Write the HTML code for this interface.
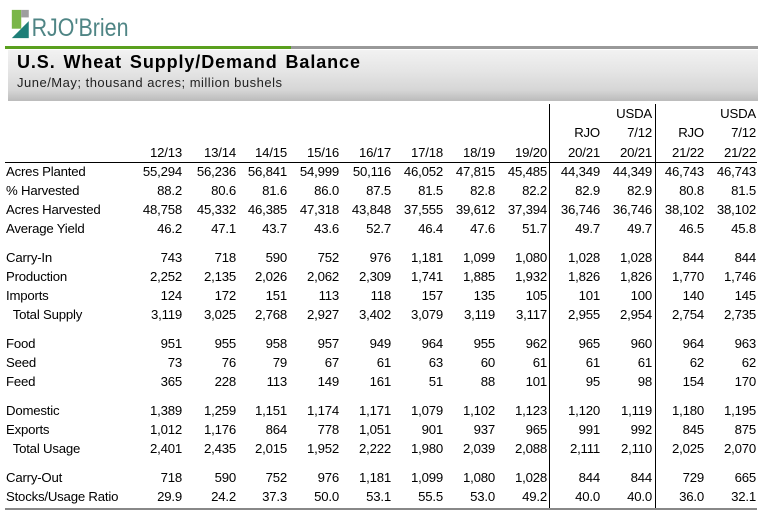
<!DOCTYPE html>
<html><head><meta charset="utf-8"><style>
body{margin:0;width:763px;height:516px;background:#fff;position:relative;overflow:hidden;font-family:"Liberation Sans","DejaVu Sans",sans-serif;color:#000}
.logo{position:absolute;left:8px;top:8px;height:32px}
.g{position:absolute;left:5px;top:46px;width:286px;height:3px;background:#5aa01e}
.gr{position:absolute;left:291px;top:46px;width:467px;height:3px;background:#999}
.band{position:absolute;left:8px;top:50px;width:750px;height:51px;background:linear-gradient(#f2f2f2 0,#e6e6e6 20px,#d6d6d6 40px,#bdbdbd 50px)}
.t{position:absolute;left:17px;top:52px;font-weight:bold;font-size:18px;letter-spacing:.9px;word-spacing:2px}
.st{position:absolute;left:17px;top:75px;font-size:13px;color:#222;letter-spacing:.5px}
.row{position:absolute;left:0;height:17px;display:flex;font-size:13.2px;line-height:17px;letter-spacing:-.2px}
.row span{text-align:right;display:block}
.row .l{width:130px;text-align:left;padding-left:6px;box-sizing:border-box}
.vl{position:absolute;width:1px;background:#000;top:104px;height:405px}
.hl{position:absolute;left:5px;width:752px;height:1px;background:#000;top:162px}
.bl{position:absolute;left:5px;width:752px;height:2px;background:#888;top:508px}
</style></head><body>
<svg class="logo" width="130" height="34" viewBox="0 0 130 34">
<rect x="0" y="2" width="10" height="20" fill="#7ab648"/><rect x="10" y="2" width="8" height="8" fill="#9e9e9e"/>
<polygon points="0,32 18,14 18,32" fill="#1e7f78"/>
<text x="21" y="30" font-family="Liberation Sans,sans-serif" font-size="27" fill="#4f8585" textLength="103" lengthAdjust="spacingAndGlyphs">RJO'Brien</text></svg>
<div class="g"></div><div class="gr"></div><div class="band"></div>
<div class="t">U.S. Wheat Supply/Demand  Balance</div>
<div class="st">June/May; thousand acres; million bushels</div>
<div class="vl" style="left:549px"></div><div class="vl" style="left:655px"></div>
<div class="hl"></div><div class="bl"></div>
<div class="row" style="top:105px"><span class="l"></span><span style="width:52px"></span><span style="width:54px"></span><span style="width:51px"></span><span style="width:52px"></span><span style="width:52px"></span><span style="width:52px"></span><span style="width:52px"></span><span style="width:52px"></span><span style="width:53px"></span><span style="width:52px">USDA</span><span style="width:52px"></span><span style="width:52px">USDA</span></div>
<div class="row" style="top:124px"><span class="l"></span><span style="width:52px"></span><span style="width:54px"></span><span style="width:51px"></span><span style="width:52px"></span><span style="width:52px"></span><span style="width:52px"></span><span style="width:52px"></span><span style="width:52px"></span><span style="width:53px">RJO</span><span style="width:52px">7/12</span><span style="width:52px">RJO</span><span style="width:52px">7/12</span></div>
<div class="row" style="top:144px"><span class="l"></span><span style="width:52px">12/13</span><span style="width:54px">13/14</span><span style="width:51px">14/15</span><span style="width:52px">15/16</span><span style="width:52px">16/17</span><span style="width:52px">17/18</span><span style="width:52px">18/19</span><span style="width:52px">19/20</span><span style="width:53px">20/21</span><span style="width:52px">20/21</span><span style="width:52px">21/22</span><span style="width:52px">21/22</span></div>
<div class="row" style="top:163px"><span class="l">Acres Planted</span><span style="width:52px">55,294</span><span style="width:54px">56,236</span><span style="width:51px">56,841</span><span style="width:52px">54,999</span><span style="width:52px">50,116</span><span style="width:52px">46,052</span><span style="width:52px">47,815</span><span style="width:52px">45,485</span><span style="width:53px">44,349</span><span style="width:52px">44,349</span><span style="width:52px">46,743</span><span style="width:52px">46,743</span></div>
<div class="row" style="top:182px"><span class="l">% Harvested</span><span style="width:52px">88.2</span><span style="width:54px">80.6</span><span style="width:51px">81.6</span><span style="width:52px">86.0</span><span style="width:52px">87.5</span><span style="width:52px">81.5</span><span style="width:52px">82.8</span><span style="width:52px">82.2</span><span style="width:53px">82.9</span><span style="width:52px">82.9</span><span style="width:52px">80.8</span><span style="width:52px">81.5</span></div>
<div class="row" style="top:201px"><span class="l">Acres Harvested</span><span style="width:52px">48,758</span><span style="width:54px">45,332</span><span style="width:51px">46,385</span><span style="width:52px">47,318</span><span style="width:52px">43,848</span><span style="width:52px">37,555</span><span style="width:52px">39,612</span><span style="width:52px">37,394</span><span style="width:53px">36,746</span><span style="width:52px">36,746</span><span style="width:52px">38,102</span><span style="width:52px">38,102</span></div>
<div class="row" style="top:220px"><span class="l">Average Yield</span><span style="width:52px">46.2</span><span style="width:54px">47.1</span><span style="width:51px">43.7</span><span style="width:52px">43.6</span><span style="width:52px">52.7</span><span style="width:52px">46.4</span><span style="width:52px">47.6</span><span style="width:52px">51.7</span><span style="width:53px">49.7</span><span style="width:52px">49.7</span><span style="width:52px">46.5</span><span style="width:52px">45.8</span></div>
<div class="row" style="top:249px"><span class="l">Carry-In</span><span style="width:52px">743</span><span style="width:54px">718</span><span style="width:51px">590</span><span style="width:52px">752</span><span style="width:52px">976</span><span style="width:52px">1,181</span><span style="width:52px">1,099</span><span style="width:52px">1,080</span><span style="width:53px">1,028</span><span style="width:52px">1,028</span><span style="width:52px">844</span><span style="width:52px">844</span></div>
<div class="row" style="top:268px"><span class="l">Production</span><span style="width:52px">2,252</span><span style="width:54px">2,135</span><span style="width:51px">2,026</span><span style="width:52px">2,062</span><span style="width:52px">2,309</span><span style="width:52px">1,741</span><span style="width:52px">1,885</span><span style="width:52px">1,932</span><span style="width:53px">1,826</span><span style="width:52px">1,826</span><span style="width:52px">1,770</span><span style="width:52px">1,746</span></div>
<div class="row" style="top:287px"><span class="l">Imports</span><span style="width:52px">124</span><span style="width:54px">172</span><span style="width:51px">151</span><span style="width:52px">113</span><span style="width:52px">118</span><span style="width:52px">157</span><span style="width:52px">135</span><span style="width:52px">105</span><span style="width:53px">101</span><span style="width:52px">100</span><span style="width:52px">140</span><span style="width:52px">145</span></div>
<div class="row" style="top:306px"><span class="l">&nbsp; Total Supply</span><span style="width:52px">3,119</span><span style="width:54px">3,025</span><span style="width:51px">2,768</span><span style="width:52px">2,927</span><span style="width:52px">3,402</span><span style="width:52px">3,079</span><span style="width:52px">3,119</span><span style="width:52px">3,117</span><span style="width:53px">2,955</span><span style="width:52px">2,954</span><span style="width:52px">2,754</span><span style="width:52px">2,735</span></div>
<div class="row" style="top:335px"><span class="l">Food</span><span style="width:52px">951</span><span style="width:54px">955</span><span style="width:51px">958</span><span style="width:52px">957</span><span style="width:52px">949</span><span style="width:52px">964</span><span style="width:52px">955</span><span style="width:52px">962</span><span style="width:53px">965</span><span style="width:52px">960</span><span style="width:52px">964</span><span style="width:52px">963</span></div>
<div class="row" style="top:354px"><span class="l">Seed</span><span style="width:52px">73</span><span style="width:54px">76</span><span style="width:51px">79</span><span style="width:52px">67</span><span style="width:52px">61</span><span style="width:52px">63</span><span style="width:52px">60</span><span style="width:52px">61</span><span style="width:53px">61</span><span style="width:52px">61</span><span style="width:52px">62</span><span style="width:52px">62</span></div>
<div class="row" style="top:373px"><span class="l">Feed</span><span style="width:52px">365</span><span style="width:54px">228</span><span style="width:51px">113</span><span style="width:52px">149</span><span style="width:52px">161</span><span style="width:52px">51</span><span style="width:52px">88</span><span style="width:52px">101</span><span style="width:53px">95</span><span style="width:52px">98</span><span style="width:52px">154</span><span style="width:52px">170</span></div>
<div class="row" style="top:402px"><span class="l">Domestic</span><span style="width:52px">1,389</span><span style="width:54px">1,259</span><span style="width:51px">1,151</span><span style="width:52px">1,174</span><span style="width:52px">1,171</span><span style="width:52px">1,079</span><span style="width:52px">1,102</span><span style="width:52px">1,123</span><span style="width:53px">1,120</span><span style="width:52px">1,119</span><span style="width:52px">1,180</span><span style="width:52px">1,195</span></div>
<div class="row" style="top:421px"><span class="l">Exports</span><span style="width:52px">1,012</span><span style="width:54px">1,176</span><span style="width:51px">864</span><span style="width:52px">778</span><span style="width:52px">1,051</span><span style="width:52px">901</span><span style="width:52px">937</span><span style="width:52px">965</span><span style="width:53px">991</span><span style="width:52px">992</span><span style="width:52px">845</span><span style="width:52px">875</span></div>
<div class="row" style="top:440px"><span class="l">&nbsp; Total Usage</span><span style="width:52px">2,401</span><span style="width:54px">2,435</span><span style="width:51px">2,015</span><span style="width:52px">1,952</span><span style="width:52px">2,222</span><span style="width:52px">1,980</span><span style="width:52px">2,039</span><span style="width:52px">2,088</span><span style="width:53px">2,111</span><span style="width:52px">2,110</span><span style="width:52px">2,025</span><span style="width:52px">2,070</span></div>
<div class="row" style="top:469px"><span class="l">Carry-Out</span><span style="width:52px">718</span><span style="width:54px">590</span><span style="width:51px">752</span><span style="width:52px">976</span><span style="width:52px">1,181</span><span style="width:52px">1,099</span><span style="width:52px">1,080</span><span style="width:52px">1,028</span><span style="width:53px">844</span><span style="width:52px">844</span><span style="width:52px">729</span><span style="width:52px">665</span></div>
<div class="row" style="top:488px"><span class="l">Stocks/Usage Ratio</span><span style="width:52px">29.9</span><span style="width:54px">24.2</span><span style="width:51px">37.3</span><span style="width:52px">50.0</span><span style="width:52px">53.1</span><span style="width:52px">55.5</span><span style="width:52px">53.0</span><span style="width:52px">49.2</span><span style="width:53px">40.0</span><span style="width:52px">40.0</span><span style="width:52px">36.0</span><span style="width:52px">32.1</span></div>
</body></html>
